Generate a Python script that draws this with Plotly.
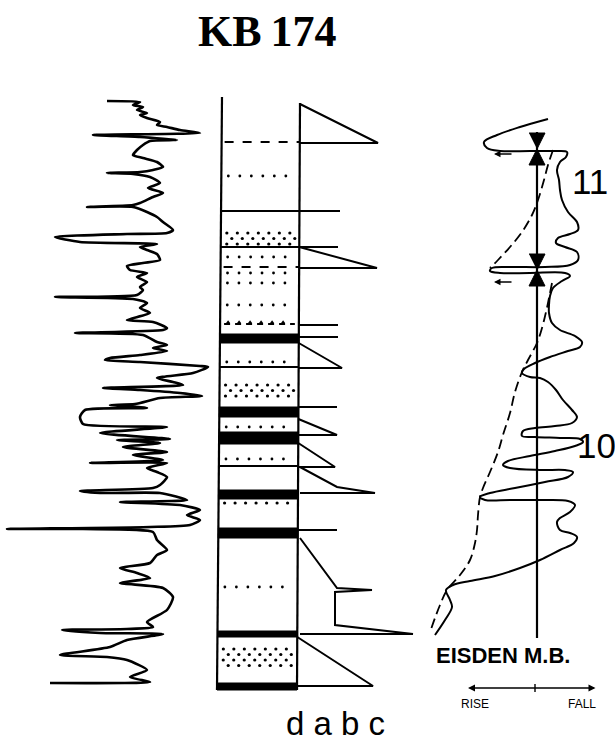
import numpy as np
import plotly.graph_objects as go

# ---------------- data (depth axis: 0 = top of sheet, increasing downward) ----------------
# d : gamma-ray log
gr_value = [107,140,133,143,137,147,140,147,160,157,167,180,200,93,140,177,150,143,137,133,143,157,163,153,140,107,133,150,160,148,163,153,140,133,87,133,147,157,163,173,167,127,55,80,157,140,147,157,160,143,127,130,147,137,147,140,143,137,55,133,147,140,150,127,153,167,163,75,143,157,167,153,167,140,110,105,140,200,208,193,157,173,183,103,140,180,202,160,135,110,147,85,80,83,167,100,170,117,160,123,167,133,163,90,167,147,157,167,160,153,80,100,160,187,120,180,200,187,200,190,150,7,83,153,157,167,157,150,120,137,150,120,163,173,167,147,153,127,62,100,163,127,110,60,107,127,147,130,150,50]
gr_depth = [101,102,105,107,110,113,115,118,122,125,127,130,133,135,137,140,141,145,150,155,158,162,167,170,172,173,174,177,183,188,193,197,203,205,207,207,212,217,222,230,233,234,237,242,244,247,250,254,260,263,266,270,273,277,282,287,290,295,297,299,303,308,313,320,322,328,330,333,335,342,345,348,351,355,358,360,362,366,367,373,378,382,385,388,390,393,396,398,404,405,408,410,417,424,427,433,439,440,443,447,452,455,460,463,463,468,472,477,485,488,491,493,493,500,502,505,510,515,520,525,527,529,529,532,540,550,555,563,568,573,578,583,588,597,610,622,627,629,630,633,634,640,647,655,657,660,670,677,682,683]

# a : lithological column
col_top, col_bottom = 97, 690
col_left_top, col_left_bottom = 222, 217
col_right_top, col_right_bottom = 300, 297
coal_top = [334, 407, 432, 490, 528, 631, 683]
coal_bottom = [343, 417, 444, 499, 538, 637, 690]
solid_depth = [211, 247, 367, 466, 634]
dashed_depth = [142, 267]
root_depth = [324]
sparse_dot_depth = [176, 257, 273, 283, 305, 362, 427, 459, 587]
dense_top = [233, 385, 501, 649]
dense_bottom = [245, 401, 505, 666]

# b : cycle triangles
tri_top = [104, 247, 343, 419, 443, 637]
tri_base = [143, 268, 368, 435, 467, 686]
tri_tip = [378, 377, 342, 337, 335, 373]
tick_depth = [211, 247, 325, 337, 407, 530]
tick_end = [340, 338, 338, 338, 337, 337]
cycA_x = [300, 337, 375, 300]
cycA_y = [467, 487, 493, 493]
cycB_x = [300, 337, 372, 335, 335, 413, 300]
cycB_y = [538, 588, 590, 592, 625, 634, 634]

# c : relative sea-level curve
sl_x = [548,520,497,484,487,500,530,555,567,566,560,557,559,560,562,568,577,578,570,558,556,565,577,578,570,545,510,492,490,500,530,565,570,562,553,550,549,549,552,560,575,582,580,568,550,535,524,522,530,540,548,556,563,572,577,572,555,535,523,522,535,560,580,583,575,555,530,508,503,510,540,565,573,568,545,515,490,480,485,510,540,568,575,570,560,557,560,570,577,574,560,540,520,495,470,453,446,450,452,445,435]
sl_y = [119,127,135,142,148,151,151,151,152,157,162,170,180,190,200,212,222,230,234,238,243,247,252,260,265,267,267,268,271,273,273,273,276,281,288,296,305,313,323,330,336,342,347,351,357,363,369,373,377,378,382,390,400,410,417,423,426,428,431,436,437,438,439,442,446,451,456,461,465,468,470,470,472,477,482,488,493,497,500,500,500,501,505,512,518,522,530,533,537,543,550,560,568,576,581,585,590,600,607,620,635]
trend1_x = [553,548,544,538,532,522,510,498,490]
trend1_y = [150,165,180,200,215,232,247,260,268]
trend2_x = [552,549,546,542,537,528,522,515,510,503,498,490,483,480,478,477,475,470,460,447,440,435,430]
trend2_y = [283,298,312,328,343,360,372,392,413,435,452,472,488,497,515,530,543,560,575,590,605,618,632]
sl_axis_x = 537
sl_axis_top, sl_axis_bottom = 132, 638
sb_depth = [149, 270]
arrow_depth = [154, 282]
sb_labels = ["11", "10"]
sb_label_depth = [181, 445]
sb_label_x = [590, 596]

column_labels = "d a b c"

# ---------------- figure ----------------
fig = go.Figure()
K = "black"

def line(xs, ys, width=2, dash="solid", shape="linear", smoothing=1.0):
    ln = dict(color=K, width=width, dash=dash, shape=shape)
    if shape == "spline":
        ln["smoothing"] = smoothing
    fig.add_trace(go.Scatter(x=xs, y=ys, mode="lines", hoverinfo="skip", line=ln))

def lx(y):
    return col_left_top + (col_left_bottom - col_left_top) * (y - col_top) / (col_bottom - col_top)

def rx(y):
    return col_right_top + (col_right_bottom - col_right_top) * (y - col_top) / (col_bottom - col_top)

# gamma log
line(gr_value, gr_depth, width=2.6, shape="spline", smoothing=0.6)

# column outline
line([col_left_top, col_left_bottom], [col_top, col_bottom], width=2.2)
line([col_right_top, col_right_bottom], [col_top + 6, col_bottom], width=2.2)

# coal seams
for t, b in zip(coal_top, coal_bottom):
    fig.add_trace(go.Scatter(x=[lx(t), rx(t), rx(b), lx(b), lx(t)], y=[t, t, b, b, t],
                             mode="lines", fill="toself", fillcolor=K, hoverinfo="skip",
                             line=dict(color=K, width=1)))
for d in solid_depth:
    line([lx(d), rx(d)], [d, d], width=2)
for d in dashed_depth:
    line([lx(d) + 3, rx(d)], [d, d], width=2.2, dash="dash")
for d in root_depth:
    line([lx(d) + 4, rx(d) - 4], [d, d], width=2, dash="6px,5px")
    xs = np.arange(lx(d) + 8, rx(d) - 6, 11)
    fig.add_trace(go.Scatter(x=xs, y=[d - 2] * len(xs), mode="markers", hoverinfo="skip",
                             marker=dict(color=K, size=3.5, symbol="triangle-up")))
# sand dots
for d in sparse_dot_depth:
    xs = np.arange(lx(d) + 7, rx(d) - 4, 11.5)
    fig.add_trace(go.Scatter(x=xs, y=[d] * len(xs), mode="markers", hoverinfo="skip",
                             marker=dict(color=K, size=2.8)))
for t, b in zip(dense_top, dense_bottom):
    rows = np.arange(t, b + 0.1, 5.5) if b - t > 5 else np.array([(t + b) / 2])
    for i, d in enumerate(rows):
        off = 0 if i % 2 == 0 else 5
        xs = np.arange(lx(d) + 6 + off, rx(d) - 3, 10.5)
        fig.add_trace(go.Scatter(x=xs, y=[d] * len(xs), mode="markers", hoverinfo="skip",
                                 marker=dict(color=K, size=3.2)))

# cycle triangles
for t, b, tip in zip(tri_top, tri_base, tri_tip):
    line([rx(t), tip, rx(b)], [t, b, b], width=2)
for d, e in zip(tick_depth, tick_end):
    line([rx(d), e], [d, d], width=2)
line(cycA_x, cycA_y, width=2)
line(cycB_x, cycB_y, width=2)

# sea-level curve
line([sl_axis_x, sl_axis_x], [sl_axis_top, sl_axis_bottom], width=2.2)
line(sl_x, sl_y, width=2, shape="spline")
line(trend1_x, trend1_y, width=1.8, dash="10px,5px", shape="spline")
line(trend2_x, trend2_y, width=1.8, dash="10px,5px", shape="spline")
for s in sb_depth:
    fig.add_trace(go.Scatter(x=[sl_axis_x - 8, sl_axis_x + 8, sl_axis_x, sl_axis_x - 8, sl_axis_x + 8, sl_axis_x],
                             y=[s - 16, s - 16, s, s + 16, s + 16, s],
                             mode="lines", fill="toself", fillcolor=K, hoverinfo="skip",
                             line=dict(color=K, width=1)))

annotations = []
for a in arrow_depth:
    annotations.append(dict(x=494, y=a, ax=513, ay=a, xref="x", yref="y", axref="x", ayref="y",
                            text="", showarrow=True, arrowhead=2, arrowsize=1, arrowwidth=1.3, arrowcolor=K))
for lab, yy, xx in zip(sb_labels, sb_label_depth, sb_label_x):
    annotations.append(dict(x=xx, y=yy, xref="x", yref="y", text=lab, showarrow=False,
                            font=dict(family="Liberation Sans, Arial", size=35, color=K)))
annotations.append(dict(x=503, y=655, xref="x", yref="y", text="<b>EISDEN M.B.</b>", showarrow=False,
                        font=dict(family="Liberation Sans, Arial", size=22, color=K)))
annotations.append(dict(x=468, y=688, ax=597, ay=688, xref="x", yref="y", axref="x", ayref="y",
                        text="", showarrow=True, arrowhead=2, arrowside="end+start", arrowsize=1,
                        arrowwidth=1.4, arrowcolor=K))
line([535, 535], [684, 692], width=1.4)
annotations.append(dict(x=475, y=704, xref="x", yref="y", text="RISE", showarrow=False,
                        font=dict(family="Liberation Sans, Arial", size=12, color=K)))
annotations.append(dict(x=582, y=704, xref="x", yref="y", text="FALL", showarrow=False,
                        font=dict(family="Liberation Sans, Arial", size=12, color=K)))
annotations.append(dict(x=267, y=31, xref="x", yref="y", text="<b>KB\u2009174</b>", showarrow=False,
                        font=dict(family="Liberation Serif, Times New Roman", size=44, color=K)))
annotations.append(dict(x=335.5, y=723, xref="x", yref="y", text=column_labels, showarrow=False,
                        font=dict(family="Liberation Sans, Arial", size=33, color=K)))

fig.update_layout(
    width=615, height=743, margin=dict(l=0, r=0, t=0, b=0),
    paper_bgcolor="white", plot_bgcolor="white", showlegend=False,
    xaxis=dict(range=[0, 615], visible=False, fixedrange=True),
    yaxis=dict(range=[743, 0], visible=False, fixedrange=True),
    annotations=annotations,
)
fig.write_html("out.html", config={"displayModeBar": False},
               post_script="document.body.style.margin='0px';document.body.style.overflow='hidden';")
